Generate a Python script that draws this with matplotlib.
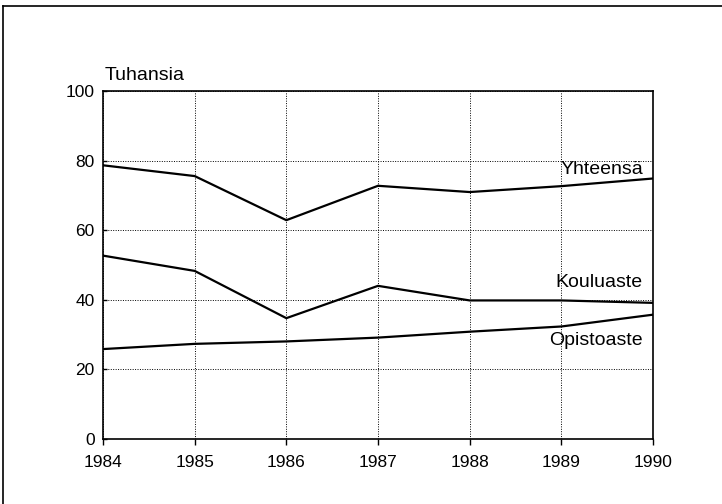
import matplotlib
matplotlib.use("Agg")
import matplotlib.pyplot as plt
from matplotlib.lines import Line2D

plt.rcParams['font.family'] = ['Liberation Sans', 'DejaVu Sans']

years = [1984, 1985, 1986, 1987, 1988, 1989, 1990]
yhteensa = [78.7, 75.6, 62.9, 72.8, 71.0, 72.7, 74.9]
kouluaste = [52.7, 48.3, 34.7, 44.0, 39.8, 39.8, 39.1]
opistoaste = [25.8, 27.3, 28.0, 29.1, 30.8, 32.3, 35.7]
series_names = ["Yhteensä", "Kouluaste", "Opistoaste"]
label_y = [77.4, 45.0, 28.4]
y_ticks = [0, 20, 40, 60, 80, 100]
y_title = "Tuhansia"

fig = plt.figure(figsize=(7.22, 5.04), dpi=100)
ax = fig.add_axes([103/722, 1-438.7/504, 550/722, 347.4/504])

for vals in (yhteensa, kouluaste, opistoaste):
    ax.plot(years, vals, color='black', lw=1.6, solid_joinstyle='miter')

ax.set_xlim(years[0], years[-1])
ax.set_ylim(y_ticks[0], y_ticks[-1])
ax.set_xticks(years)
ax.set_xticklabels([str(y) for y in years])
ax.set_yticks(y_ticks)
ax.grid(True, color='black', linestyle=(0, (1, 1.5)), linewidth=0.7)
ax.tick_params(axis='x', direction='out', length=4, width=1, labelsize=12.5, pad=8)
ax.tick_params(axis='y', direction='in', length=3, width=1, labelsize=12.5, pad=6)
for s in ax.spines.values():
    s.set_linewidth(1.2)
    s.set_color('black')

for name, ly in zip(series_names, label_y):
    ax.text(years[-1] - 0.11, ly, name, ha='right', va='center', fontsize=14)

ax.text(0.003, 1.02, y_title, transform=ax.transAxes, ha='left', va='bottom', fontsize=14)

# outer frame (top and left edges)
fig.add_artist(Line2D([3/722, 1.0], [1-6/504, 1-6/504], transform=fig.transFigure, color='black', lw=1.2))
fig.add_artist(Line2D([3/722, 3/722], [0, 1-6/504], transform=fig.transFigure, color='black', lw=1.2))

fig.savefig('out.png', dpi=100)
